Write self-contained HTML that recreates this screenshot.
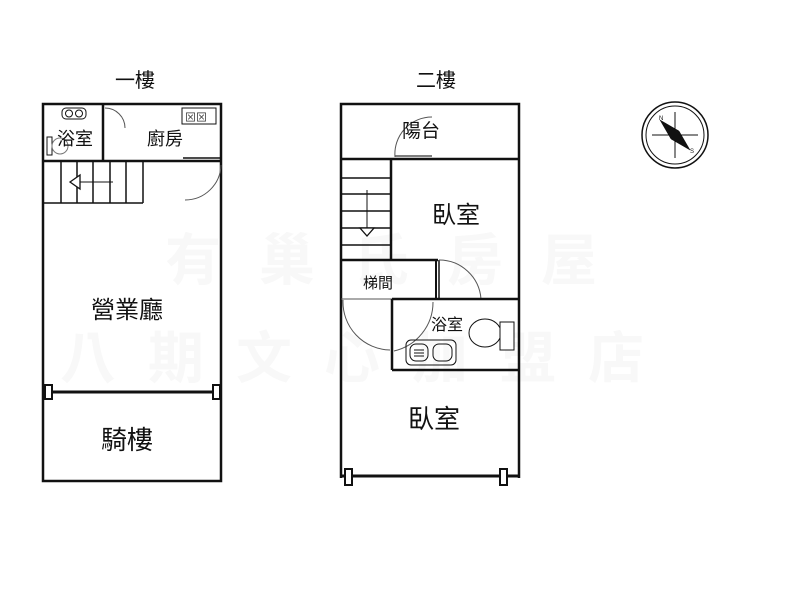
<!DOCTYPE html>
<html><head><meta charset="utf-8"><style>
body{margin:0;background:#fff;}
svg{display:block;}
text{font-family:"Liberation Sans","Noto Sans CJK TC",sans-serif;fill:#111;}
</style></head><body>
<svg width="800" height="600" viewBox="0 0 800 600" xmlns="http://www.w3.org/2000/svg">
<g font-size="56" font-weight="bold">
<text x="165" y="280" style="fill:#f8f8f8" letter-spacing="38">有巢氏房屋</text>
<text x="60" y="378" style="fill:#f8f8f8" letter-spacing="32">八期文心加盟店</text>
</g>
<g stroke="#111" fill="none">
<rect x="43" y="104" width="178" height="377" stroke-width="2.5"/>
<line x1="43" y1="161" x2="221" y2="161" stroke-width="2.5"/>
<line x1="103" y1="104" x2="103" y2="161" stroke-width="2.5"/>
<line x1="183" y1="158" x2="221" y2="158" stroke-width="1.5"/>
<line x1="43" y1="203" x2="143" y2="203" stroke-width="1.5"/>
<g stroke-width="1.5">
<line x1="61" y1="161" x2="61" y2="203"/><line x1="77" y1="161" x2="77" y2="203"/>
<line x1="93" y1="161" x2="93" y2="203"/><line x1="110" y1="161" x2="110" y2="203"/>
<line x1="126" y1="161" x2="126" y2="203"/><line x1="143" y1="161" x2="143" y2="203"/>
</g>
<line x1="80" y1="182" x2="113" y2="182" stroke-width="1"/>
<polygon points="70,182 80,175 80,189" stroke-width="1.3" fill="#fff"/>
<path d="M105 108 A20 20 0 0 1 125 128" stroke-width="1" stroke="#555"/>
<path d="M221 165 A36 36 0 0 1 185 200" stroke-width="1" stroke="#555"/>
<rect x="62" y="108" width="24" height="11" rx="4" stroke-width="1"/>
<circle cx="69" cy="113.5" r="3.5" stroke-width="1"/><circle cx="79" cy="113.5" r="3.5" stroke-width="1"/>
<rect x="47" y="137" width="5" height="18" stroke-width="1"/>
<ellipse cx="60" cy="146" rx="8" ry="8" stroke-width="1" stroke="#777"/>
<rect x="182" y="108" width="34" height="16" stroke-width="1"/>
<text x="185" y="121" font-size="11" stroke="none" style="fill:#333">⊠⊠</text>
<line x1="43" y1="392" x2="221" y2="392" stroke-width="3"/>
<rect x="45" y="385" width="7" height="14" stroke-width="2" fill="#fff"/>
<rect x="213" y="385" width="7" height="14" stroke-width="2" fill="#fff"/>

<path d="M341 478 L341 104 L519 104 L519 478" stroke-width="2.5"/>
<line x1="341" y1="476" x2="519" y2="476" stroke-width="3"/>
<rect x="345" y="469" width="7" height="16" stroke-width="2" fill="#fff"/>
<rect x="500" y="469" width="7" height="16" stroke-width="2" fill="#fff"/>
<line x1="341" y1="159" x2="519" y2="159" stroke-width="2.5"/>
<line x1="395" y1="156" x2="432" y2="156" stroke-width="1.5" stroke="#555"/>
<path d="M395 157 A37 37 0 0 1 432 117" stroke-width="1" stroke="#555"/>
<line x1="391" y1="159" x2="391" y2="260" stroke-width="2.5"/>
<g stroke-width="1.5">
<line x1="341" y1="178" x2="391" y2="178"/><line x1="341" y1="194" x2="391" y2="194"/>
<line x1="341" y1="211" x2="391" y2="211"/><line x1="341" y1="228" x2="391" y2="228"/>
<line x1="341" y1="245" x2="391" y2="245"/>
</g>
<line x1="367" y1="190" x2="367" y2="228" stroke-width="1"/>
<polygon points="360,228 374,228 367,236" stroke-width="1.3" fill="#fff"/>
<line x1="341" y1="260" x2="438" y2="260" stroke-width="2.5"/>
<line x1="436" y1="260" x2="436" y2="298" stroke-width="2"/>
<line x1="439" y1="260" x2="439" y2="298" stroke-width="1.5"/>
<path d="M439 260 A42 42 0 0 1 481 299" stroke-width="1" stroke="#555"/>
<line x1="341" y1="299" x2="392" y2="299" stroke-width="1" stroke="#555"/>
<path d="M343 300 A48 48 0 0 0 390 350" stroke-width="1" stroke="#555"/>
<line x1="392" y1="299" x2="519" y2="299" stroke-width="2.5"/>
<line x1="392" y1="299" x2="392" y2="370" stroke-width="2.5"/>
<line x1="392" y1="370" x2="519" y2="370" stroke-width="2.5"/>
<path d="M394 351 A50 50 0 0 0 433 302" stroke-width="1" stroke="#555"/>
<rect x="406" y="340" width="50" height="25" rx="5" stroke-width="1"/>
<rect x="410" y="344" width="18" height="17" rx="6" stroke-width="1"/>
<rect x="433" y="344" width="19" height="17" rx="6" stroke-width="1"/>
<line x1="414" y1="350" x2="424" y2="350" stroke-width="1"/><line x1="414" y1="353" x2="424" y2="353" stroke-width="1"/><line x1="414" y1="356" x2="424" y2="356" stroke-width="1"/>
<ellipse cx="485" cy="333" rx="16" ry="14" stroke-width="1"/>
<rect x="500" y="322" width="14" height="28" stroke-width="1" fill="#fff"/>

<circle cx="675" cy="135" r="33" stroke-width="1.5"/>
<circle cx="675" cy="135" r="29" stroke-width="1"/>
<line x1="675" y1="112" x2="675" y2="158" stroke-width="1"/>
<line x1="652" y1="135" x2="698" y2="135" stroke-width="1"/>
<polygon points="660,120 679,131 690,150 671,139" fill="#111" stroke-width="0.5"/>
</g>
<text x="659" y="120" font-size="6">N</text>
<text x="690" y="153" font-size="6">S</text>

<g font-size="20">
<text x="135" y="87" text-anchor="middle">一樓</text>
<text x="436" y="87" text-anchor="middle">二樓</text>
</g>
<text x="75" y="145" font-size="18" text-anchor="middle">浴室</text>
<text x="165" y="145" font-size="18" text-anchor="middle">廚房</text>
<text x="127" y="318" font-size="24" text-anchor="middle">營業廳</text>
<text x="127" y="449" font-size="26" text-anchor="middle">騎樓</text>
<text x="421" y="137" font-size="19" text-anchor="middle">陽台</text>
<text x="456" y="223" font-size="24" text-anchor="middle">臥室</text>
<text x="378" y="288" font-size="15" text-anchor="middle">梯間</text>
<text x="447" y="330" font-size="16" text-anchor="middle">浴室</text>
<text x="434" y="428" font-size="26" text-anchor="middle">臥室</text>
</svg>
</body></html>
